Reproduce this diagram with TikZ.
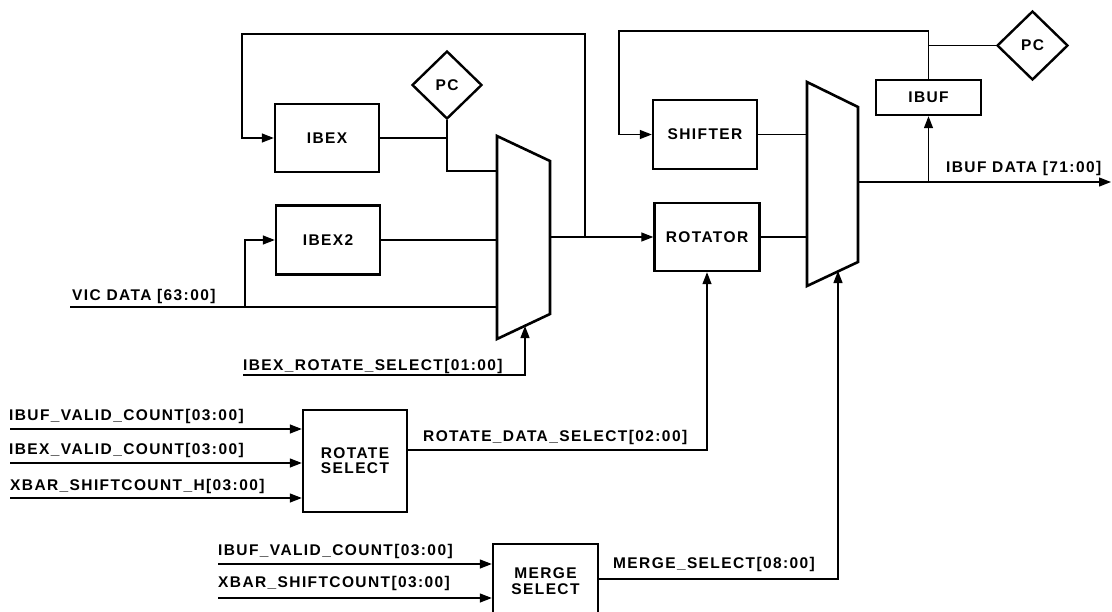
\documentclass[tikz,border=0pt]{standalone}
\usepackage{fontspec}
\setmainfont{Liberation Sans}
\newfontfamily\labfont{Liberation Sans Bold}[LetterSpace=9]
\usetikzlibrary{arrows.meta,shapes.geometric}
\begin{document}
\begin{tikzpicture}[x=1pt,y=-1pt,
  blk/.style={draw,line width=2.4pt,minimum width=104pt,minimum height=68pt,inner sep=0pt,
    font=\labfont\fontsize{15.5}{17}\selectfont,align=center},
  pcbox/.style={draw,diamond,line width=2.4pt,minimum width=70pt,minimum height=68pt,inner sep=0pt,
    font=\labfont\fontsize{15.5}{17}\selectfont},
  conn/.style={line width=1.3pt},
  arr/.style={conn,-{Triangle[length=12pt,width=9pt]}},
  sig/.style={font=\labfont\fontsize{15.5}{17}\selectfont,anchor=base west,inner sep=0pt},
  mux/.style={line width=2.6pt,line join=miter}
]
\useasboundingbox (0,0) rectangle (1112,611);

% multiplexers
\coordinate (m1tl) at (497,136); \coordinate (m1tr) at (550,161);
\coordinate (m1br) at (550,314); \coordinate (m1bl) at (497,339);
\draw[mux] (m1tl) -- (m1tr) -- (m1br) -- (m1bl) -- cycle;
\coordinate (m2tl) at (807,82); \coordinate (m2tr) at (858,107);
\coordinate (m2br) at (858,262); \coordinate (m2bl) at (807,286);
\draw[mux] (m2tl) -- (m2tr) -- (m2br) -- (m2bl) -- cycle;

% blocks
\node[blk] (ibex) at (327,138) {IBEX};
\node[blk,minimum height=69pt] (ibex2) at (328,240) {IBEX2};
\node[pcbox] (pc1) at (447,85) {PC};
\node[blk,minimum height=69pt] (shifter) at (705,134.5) {SHIFTER};
\node[blk,minimum width=105pt] (rotator) at (707,237) {ROTATOR};
\node[blk,minimum width=105pt,minimum height=35pt] (ibuf) at (928.5,97.5) {IBUF};
\node[pcbox,minimum width=71pt,minimum height=69pt] (pc2) at (1032.5,45.5) {PC};
\node[blk,minimum height=102pt,font=\labfont\fontsize{15.5}{16.5}\selectfont] (rs) at (355,461) {\raisebox{-5pt}{\shortstack{ROTATE\\[1pt]SELECT}}};
\node[blk,minimum width=105pt,minimum height=74pt,font=\labfont\fontsize{15.5}{15.5}\selectfont] (ms) at (545.5,581) {MERGE\\SELECT};

% coordinates for free ends
\coordinate (m1a) at (497,171);
\coordinate (vic) at (70,307);
\coordinate (m1c) at (497,307);
\coordinate (vicb) at (245,307);
\coordinate (m1out) at (550,237);
\coordinate (fb1) at (585,237);
\coordinate (fb1t) at (585,34);
\coordinate (fb1l) at (242,34);
\coordinate (fb2t) at (928.5,31);
\coordinate (fb2l) at (619,31);
\coordinate (m2out) at (858,182);
\coordinate (out) at (1111,182);
\coordinate (irs) at (243,375);
\coordinate (m1s) at (525,326);
\coordinate (a1) at (10,429);
\coordinate (a2) at (10,463);
\coordinate (a3) at (10,498);
\coordinate (b1) at (218,564);
\coordinate (b2) at (218,598);
\coordinate (m2s) at (838,271);

% connectors
\draw[conn] (ibex.east) -- (ibex.east -| pc1.south);
\draw[conn] (pc1.south) |- (m1a);
\draw[conn] (ibex2.east) -- (ibex2.east -| m1tl);
\draw[conn] (vic) -- (m1c);
\draw[arr] (vicb) |- (ibex2.west);
\draw[arr] (m1out) -- (rotator.west);
\draw[arr] (fb1) -- (fb1t) -- (fb1l) |- (ibex.west);
\draw[arr] (ibuf.north) -- (fb2t) -- (fb2l) |- (shifter.west);
\draw[conn] (ibuf.north |- pc2.west) -- (pc2.west);
\draw[conn] (shifter.east) -- (shifter.east -| m2tl);
\draw[conn] (rotator.east) -- (rotator.east -| m2tl);
\draw[arr] (m2out) -- (out);
\draw[arr] (ibuf.south |- m2out) -- (ibuf.south);
\draw[arr] (irs) -| (m1s);
\draw[arr] (a1) -- (a1 -| rs.west);
\draw[arr] (a2) -- (a2 -| rs.west);
\draw[arr] (a3) -- (a3 -| rs.west);
\draw[arr] ([yshift=11pt]rs.east) -| (rotator.south);
\draw[arr] (b1) -- (b1 -| ms.west);
\draw[arr] (b2) -- (b2 -| ms.west);
\draw[arr] ([yshift=2pt]ms.east) -| (m2s);

% labels
\node[sig] (lvic) at (72,300.5) {VIC DATA [63:00]};
\node[sig] (lirs) at (243,370.5) {IBEX\_ROTATE\_SELECT[01:00]};
\node[sig] (la1) at (9,420.5) {IBUF\_VALID\_COUNT[03:00]};
\node[sig] (la2) at (9,454.5) {IBEX\_VALID\_COUNT[03:00]};
\node[sig] (la3) at (10,490.5) {XBAR\_SHIFTCOUNT\_H[03:00]};
\node[sig] (lrds) at (423,441.5) {ROTATE\_DATA\_SELECT[02:00]};
\node[sig] (lb1) at (218,555.5) {IBUF\_VALID\_COUNT[03:00]};
\node[sig] (lb2) at (218,587.5) {XBAR\_SHIFTCOUNT[03:00]};
\node[sig] (lms) at (613,568.5) {MERGE\_SELECT[08:00]};
\node[sig] (lout) at (946,172.5) {IBUF DATA [71:00]};
\end{tikzpicture}
\end{document}
